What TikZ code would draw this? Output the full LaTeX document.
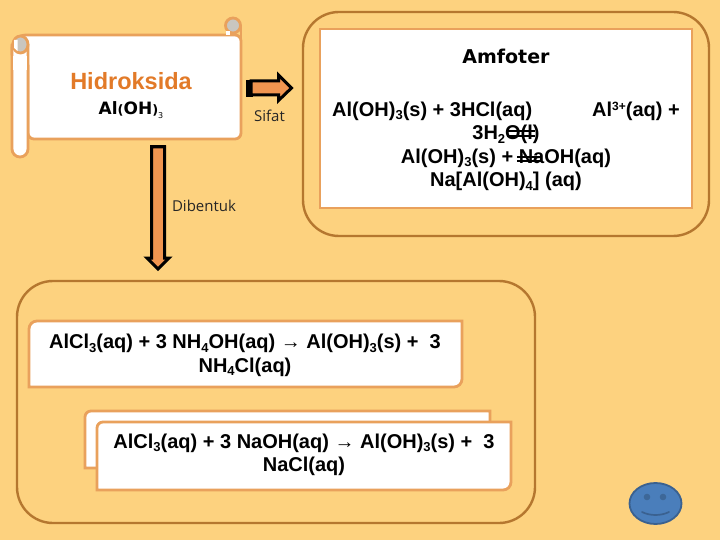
\documentclass[tikz,border=0pt]{standalone}
\usepackage{fontspec}
\setmainfont{Liberation Sans}
\newfontfamily\widefont{DejaVu Sans}
\newfontfamily\labelfont{Open Sans}
\newcommand{\sbs}[1]{\raisebox{-.32ex}{\fontsize{13}{13}\selectfont #1}}
\newcommand{\sps}[1]{\raisebox{.55ex}{\fontsize{12}{12}\selectfont #1}}
\definecolor{bg}{HTML}{FDD27F}
\definecolor{edgeO}{HTML}{E9A15C}
\definecolor{edgeD}{HTML}{B5772F}
\definecolor{fillO}{HTML}{F09550}
\definecolor{head}{HTML}{E27A28}
\definecolor{roll}{HTML}{C9C6C0}
\definecolor{faceF}{HTML}{4A7EBB}
\definecolor{faceD}{HTML}{3A6190}
\tikzset{
  panel/.style={draw=edgeD,line width=2.4pt,rounded corners=36pt},
  card/.style={draw=edgeO,line width=2.8pt,fill=white},
  eq/.style={align=center,inner sep=0pt,font=\fontsize{20}{23.5}\selectfont\bfseries},
  blockarrow/.style={draw=black,line width=3pt,fill=fillO,miter limit=6},
  side/.style={inner sep=0pt,font=\labelfont\fontsize{15}{17}\selectfont,text=black!85}
}
\begin{document}
\begin{tikzpicture}[x=1pt,y=-1pt]
\useasboundingbox (0,0) rectangle (720,540);
\fill[bg] (0,0) rectangle (720,540);
% sheet
\draw[card,rounded corners=6pt] (20,35) -- (241,35) -- (241,139) -- (28,139) -- (28,60) -- (12,60) -- (12,42) -- cycle;
% top-right roll
\draw[edgeO,line width=2.8pt,fill=roll] (233,25.5) circle (7.5);
\draw[edgeO,line width=2.8pt] (241,25) -- (241,40);
\fill[white] (226,31) rectangle (230,35);
% left roll
\draw[card] (12,44) -- (12,149) arc[start angle=180,end angle=360,x radius=8,y radius=-8] -- (28,44);
\fill[white] (13.4,56) rectangle (26.6,70);
\draw[edgeO,line width=2.8pt,fill=roll] (20.5,44.5) ellipse[x radius=7.5,y radius=8.5];
\fill[white] (14.2,40) -- (17.5,40) -- (17.5,51) -- (14.2,48) -- cycle;
\node[inner sep=0pt,text=head,font=\fontsize{23.5}{25}\selectfont\bfseries] (hidro) at (131,81) {Hidroksida};
\node[inner sep=0pt,font=\widefont\bfseries\fontsize{17}{18}\selectfont] (alt) at (131,110) {Al{\fontsize{13}{13}\selectfont(}OH{\fontsize{13}{13}\selectfont)}\raisebox{-.35ex}{\fontsize{8}{8}\selectfont\mdseries 3}};
% right arrow
\fill[black] (246,80) rectangle (253,97);
\draw[blockarrow] (251,81) -- (278.5,81) -- (278.5,75) -- (291.5,88) -- (278.5,100.5) -- (278.5,95) -- (251,95) -- cycle;
\node[side] (sifat) at (269.5,115.5) {Sifat};
% down arrow
\fill[black] (150,145) rectangle (166,150);
\draw[blockarrow] (151.5,147) -- (164.5,147) -- (164.5,258) -- (169,258) -- (158,269) -- (147,258) -- (151.5,258) -- cycle;
\node[side] (dib) at (204,205.5) {Dibentuk};
% amfoter panel
\draw[panel] (303,12) rectangle (709,236);
\draw[card] (320,29) rectangle (692,208);
\node[inner sep=0pt,font=\widefont\bfseries\fontsize{19}{20}\selectfont] (amf) at (506,56) {Amfoter};
\node[eq] (eqa) at (506,146.5) {Al(OH)\sbs{3}(s) + 3HCl(aq)\hspace{60pt}Al\sps{3+}(aq) +\\3H\sbs{2}O(l)\\Al(OH)\sbs{3}(s) + NaOH(aq)\\Na[Al(OH)\sbs{4}] (aq)};
\draw[black,line width=1.4pt] (507,131) -- (535,131) (507,136) -- (535,136);
\draw[black,line width=1.4pt] (517,157) -- (541,157) (517,161) -- (541,161);
% lower panel
\draw[panel] (17,281) rectangle (535,523);
\draw[card] (29,321) -- (462,321) [rounded corners=8pt] -- (462,387) [sharp corners] -- (29,387) [rounded corners=8pt] -- cycle;
\node[eq] (eqb) at (245,355.5) {AlCl\sbs{3}(aq) + 3 NH\sbs{4}OH(aq) → Al(OH)\sbs{3}(s) +~ 3\\NH\sbs{4}Cl(aq)};
\draw[card] (85,468) [rounded corners=6pt] -- (85,411) [sharp corners] -- (490,411) -- (490,440) -- (110,468) -- cycle;
\draw[card] (97,490) [rounded corners=6pt] -- (97,422) [sharp corners] -- (511,422) [rounded corners=8pt] -- (511,490) [sharp corners] -- cycle;
\node[eq] (eqc) at (304,455) {AlCl\sbs{3}(aq) + 3 NaOH(aq) → Al(OH)\sbs{3}(s) +~ 3\\NaCl(aq)};
% smiley
\draw[draw=faceD,fill=faceF,line width=1.8pt] (655.5,503.5) ellipse[x radius=26,y radius=20.5];
\fill[faceD!80!faceF] (647,497) circle (3.3) (663,497) circle (3.3);
\draw[faceD,line width=1.7pt,line cap=round] (642,512) .. controls (650,516) and (661,516) .. (669,512);
\end{tikzpicture}
\end{document}
